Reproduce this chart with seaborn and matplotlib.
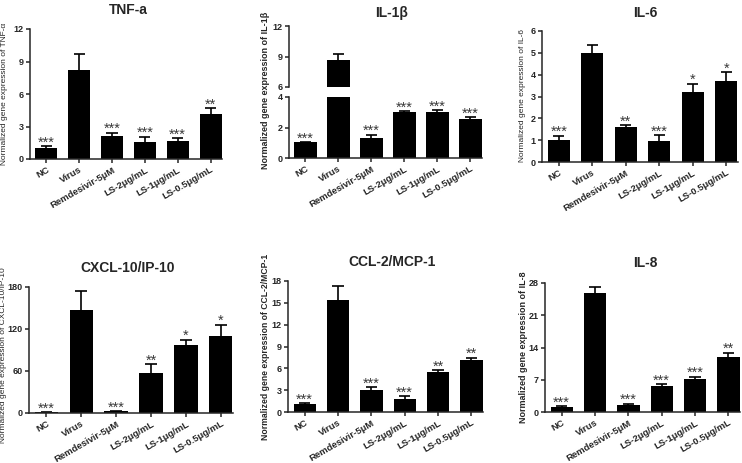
import numpy as np
import pandas as pd
import matplotlib
matplotlib.use("Agg")
import matplotlib.pyplot as plt
import seaborn as sns

categories = ["NC", "Virus", "Remdesivir-5μM", "LS-2μg/mL", "LS-1μg/mL", "LS-0.5μg/mL"]

tnf_mean = [1.0, 8.2, 2.15, 1.6, 1.66, 4.15]
tnf_err = [0.16, 1.5, 0.28, 0.46, 0.24, 0.53]
tnf_sig = ["***", "", "***", "***", "***", "**"]

il1b_mean = [1.03, 8.67, 1.32, 3.0, 3.02, 2.58]
il1b_err = [0.02, 0.55, 0.22, 0.07, 0.1, 0.1]
il1b_sig = ["***", "", "***", "***", "***", "***"]

il6_mean = [1.02, 4.99, 1.6, 0.98, 3.2, 3.69]
il6_err = [0.18, 0.35, 0.1, 0.24, 0.39, 0.41]
il6_sig = ["***", "", "**", "***", "*", "*"]

cxcl_mean = [1.0, 147, 2.4, 56.5, 97, 110]
cxcl_err = [0.3, 28, 0.5, 13, 8, 16]
cxcl_sig = ["***", "", "***", "**", "*", "*"]

ccl_mean = [1.05, 15.45, 3.0, 1.75, 5.45, 7.2]
ccl_err = [0.12, 1.8, 0.45, 0.45, 0.27, 0.28]
ccl_sig = ["***", "", "***", "***", "**", "**"]

il8_mean = [1.1, 25.8, 1.6, 5.7, 7.1, 11.85]
il8_err = [0.2, 1.3, 0.22, 0.35, 0.6, 1.05]
il8_sig = ["***", "", "***", "***", "***", "**"]

sns.set_style("ticks")
plt.rcParams["font.family"] = ["Liberation Sans", "DejaVu Sans"]
plt.rcParams["axes.linewidth"] = 1.1

W, H = 742, 463
fig = plt.figure(figsize=(W / 100, H / 100), dpi=100)


def px_axes(left, top, right, bottom):
    return fig.add_axes([left / W, 1 - bottom / H, (right - left) / W, (bottom - top) / H])


def draw_bars(ax, means, errs, sigs, ylim, yticks, show_x=True):
    df = pd.DataFrame({"cat": categories, "val": means})
    sns.barplot(data=df, x="cat", y="val", color="black", width=0.67,
                saturation=1, ax=ax, errorbar=None, linewidth=0)
    x = np.arange(len(categories))
    m = np.asarray(means, float)
    e = np.asarray(errs, float)
    ax.vlines(x, m, m + e, colors="black", linewidth=1.2)
    ax.hlines(m + e, x - 0.17, x + 0.17, colors="black", linewidth=1.2)
    for xi, mi, ei, s in zip(x, m, e, sigs):
        if s and ylim[0] <= mi + ei <= ylim[1]:
            ax.annotate(s, (xi, mi + ei), xytext=(0, -2.5), textcoords="offset points",
                        ha="center", va="bottom", fontsize=10.5, color="#3a3a3a")
    ax.set_xlim(-0.5, 5.35)
    ax.set_ylim(*ylim)
    ax.set_yticks(yticks)
    ax.set_xlabel("")
    ax.set_ylabel("")
    ax.tick_params(axis="both", direction="out", length=3, width=1.1,
                   labelsize=6.5, pad=1.5)
    for lab in ax.get_yticklabels():
        lab.set_fontweight("bold")
    sns.despine(ax=ax)
    if show_x:
        ax.set_xticks(x)
        ax.set_xticklabels(categories, rotation=30, ha="right",
                           rotation_mode="anchor", fontsize=6.8, fontweight="bold")
    else:
        ax.set_xticks([])
        ax.spines["bottom"].set_visible(False)


# Panel 1: TNF-a
ax1 = px_axes(30, 29, 222, 159)
draw_bars(ax1, tnf_mean, tnf_err, tnf_sig, (0, 12), [0, 3, 6, 9, 12])
fig.text(128 / W, 1 - 10 / H, "TNF-a", ha="center", va="center", fontsize=10, fontweight="bold")
fig.text(5 / W, 1 - 94 / H, "Normalized gene expression of TNF-α", rotation=90,
         ha="center", va="center", fontsize=6)

# Panel 2: IL-1β (broken axis)
ax2u = px_axes(289, 26, 482, 87)
draw_bars(ax2u, il1b_mean, il1b_err, il1b_sig, (6, 12), [6, 9, 12], show_x=False)
ax2l = px_axes(289, 97, 482, 158)
draw_bars(ax2l, il1b_mean, il1b_err, il1b_sig, (0, 4), [0, 2, 4])
fig.text(392 / W, 1 - 13 / H, "IL-1β", ha="center", va="center", fontsize=10, fontweight="bold")
fig.text(265 / W, 1 - 90 / H, "Normalized gene expression of IL-1β", rotation=90,
         ha="center", va="center", fontsize=6.5, fontweight="bold")

# Panel 3: IL-6
ax3 = px_axes(542, 31, 738, 162)
draw_bars(ax3, il6_mean, il6_err, il6_sig, (0, 6), [0, 1, 2, 3, 4, 5, 6])
fig.text(645 / W, 1 - 13 / H, "IL-6", ha="center", va="center", fontsize=10, fontweight="bold")
fig.text(523 / W, 1 - 96 / H, "Normalized gene expression of IL-6", rotation=90,
         ha="center", va="center", fontsize=6)

# Panel 4: CXCL-10/IP-10
ax4 = px_axes(29, 287, 233, 413)
draw_bars(ax4, cxcl_mean, cxcl_err, cxcl_sig, (0, 180), [0, 60, 120, 180])
fig.text(128 / W, 1 - 268 / H, "CXCL-10/IP-10", ha="center", va="center", fontsize=10, fontweight="bold")
fig.text(4 / W, 1 - 355 / H, "Normalized gene expression of CXCL-10/IP-10", rotation=90,
         ha="center", va="center", fontsize=6)

# Panel 5: CCL-2/MCP-1
ax5 = px_axes(288, 281, 483, 412)
draw_bars(ax5, ccl_mean, ccl_err, ccl_sig, (0, 18), [0, 3, 6, 9, 12, 15, 18])
fig.text(392 / W, 1 - 262 / H, "CCL-2/MCP-1", ha="center", va="center", fontsize=10, fontweight="bold")
fig.text(265 / W, 1 - 347 / H, "Normalized gene expression of CCL-2/MCP-1", rotation=90,
         ha="center", va="center", fontsize=6.2, fontweight="bold")

# Panel 6: IL-8
ax6 = px_axes(545, 283, 740, 412)
draw_bars(ax6, il8_mean, il8_err, il8_sig, (0, 28), [0, 7, 14, 21, 28])
fig.text(645 / W, 1 - 263 / H, "IL-8", ha="center", va="center", fontsize=10, fontweight="bold")
fig.text(523 / W, 1 - 347 / H, "Normalized gene expression of IL-8", rotation=90,
         ha="center", va="center", fontsize=6.5, fontweight="bold")

fig.savefig("out.png", dpi=100, facecolor="white")
